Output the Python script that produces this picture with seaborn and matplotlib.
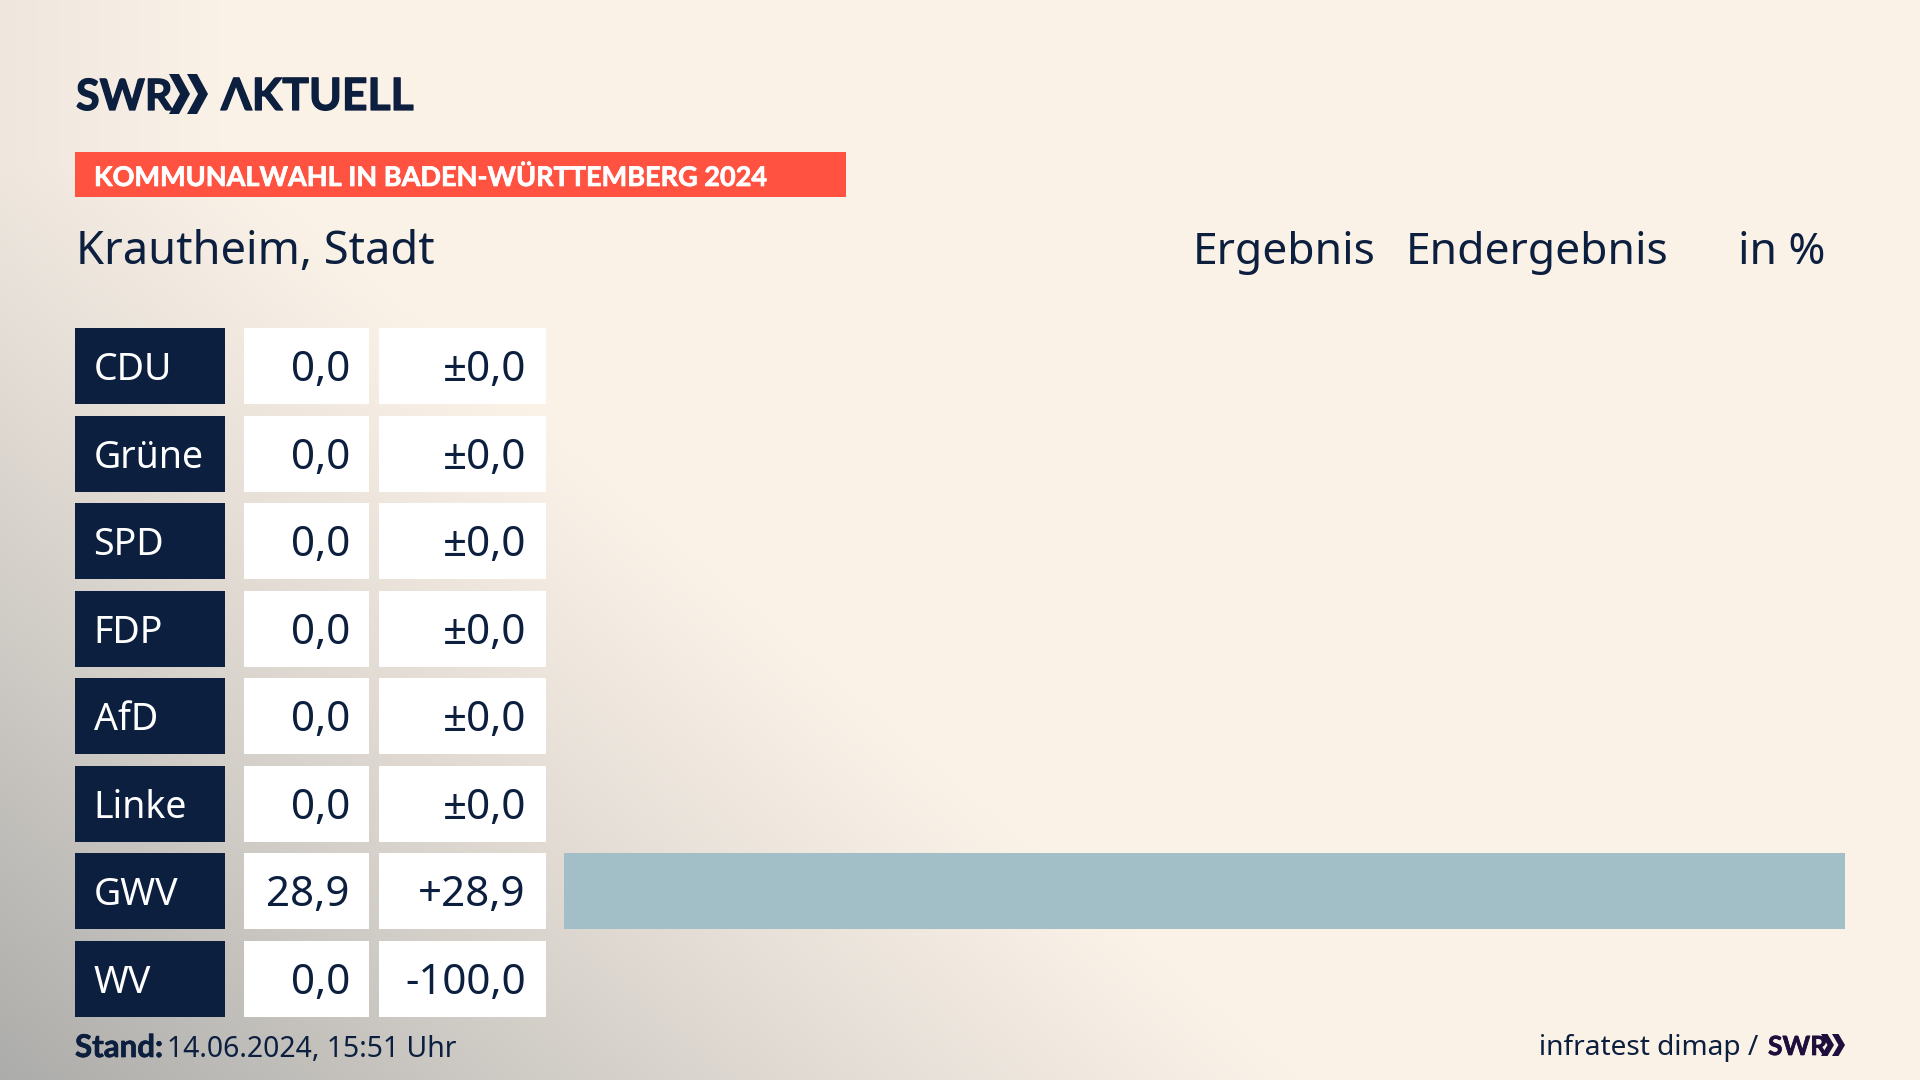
import numpy as np
import pandas as pd
import seaborn as sns
import matplotlib.pyplot as plt
import matplotlib.patheffects as pe
from matplotlib.patches import Rectangle, Polygon

# Daten
parteien = ["CDU", "Grüne", "SPD", "FDP", "AfD", "Linke", "GWV", "WV"]
ergebnis = [0.0, 0.0, 0.0, 0.0, 0.0, 0.0, 28.9, 0.0]
differenz = [0.0, 0.0, 0.0, 0.0, 0.0, 0.0, 28.9, -100.0]
ergebnis_text = ["0,0", "0,0", "0,0", "0,0", "0,0", "0,0", "28,9", "0,0"]
differenz_text = ["±0,0", "±0,0", "±0,0", "±0,0", "±0,0", "±0,0", "+28,9", "-100,0"]

NAVY = "#0C1F3F"
LILA = "#1E0F3C"
CREAM = np.array([250, 241, 231]) / 255
GRAU = np.array([172, 172, 170]) / 255
W, H = 1920, 1080
ROW_TOP, ROW_STEP, ROW_H = 328.4, 87.45, 76
BOLD = ["Lato", "DejaVu Sans"]

sns.set_theme(style="white")
plt.rcParams["font.family"] = ["Noto Sans", "DejaVu Sans"]


def draw_background(ax):
    xx, yy = np.meshgrid(np.arange(W), np.arange(H))
    # grauer Verlauf von unten links, fast diagonal
    d = xx / 1300 + (H - yy) / 1120
    t = np.clip(1 - d, 0, 1) ** 1.15
    # schmaler Rand links oben
    t = np.maximum(t, 0.14 * np.clip(1 - xx / 220, 0, 1))
    img = CREAM + (GRAU - CREAM) * t[..., None]
    ax.imshow(img, extent=(0, W, H, 0), aspect="auto", zorder=0)


def chevrons(ax, xs, top, bottom, breite, dicke, color):
    mitte = (top + bottom) / 2
    for x0 in xs:
        ax.add_patch(Polygon([(x0, top), (x0 + dicke, top), (x0 + breite, mitte),
                              (x0 + dicke, bottom), (x0, bottom), (x0 + breite - dicke, mitte)],
                             color=color, lw=0))


def draw_logo(ax):
    stroke = [pe.withStroke(linewidth=0.9, foreground=NAVY)]
    ax.text(76, 110, "SWR", color=NAVY, fontsize=31, fontweight="bold", family=BOLD,
            va="baseline", path_effects=stroke)
    chevrons(ax, (169, 187), 74, 114, 21, 10, NAVY)
    ax.text(221, 110, "ΛKTUELL", color=NAVY, fontsize=32, fontweight="bold", family=BOLD,
            va="baseline", path_effects=stroke)


fig = plt.figure(figsize=(19.2, 10.8), dpi=100)
ax = fig.add_axes([0, 0, 1, 1])
draw_background(ax)
ax.set_xlim(0, W)
ax.set_ylim(H, 0)
ax.axis("off")

draw_logo(ax)
ax.add_patch(Rectangle((75, 152), 771, 45, color="#FF5240", lw=0))
ax.text(94, 186, "KOMMUNALWAHL IN BADEN-WÜRTTEMBERG 2024", color="white", fontsize=19.5,
        fontweight="bold", family=BOLD, va="baseline",
        path_effects=[pe.withStroke(linewidth=0.5, foreground="white")])

ax.text(76, 264, "Krautheim, Stadt", color=NAVY, fontsize=32.6, va="baseline")
ax.text(1193, 264, "Ergebnis", color=NAVY, fontsize=32, va="baseline")
ax.text(1406, 264, "Endergebnis", color=NAVY, fontsize=32, va="baseline")
ax.text(1738, 264, "in %", color=NAVY, fontsize=32, va="baseline")

# Tabelle links
for i, partei in enumerate(parteien):
    top = ROW_TOP + i * ROW_STEP
    base = top + ROW_H / 2 + 15
    ax.add_patch(Rectangle((75, top), 150, ROW_H, color=NAVY, lw=0))
    ax.add_patch(Rectangle((244, top), 125, ROW_H, color="white", lw=0))
    ax.add_patch(Rectangle((379, top), 167, ROW_H, color="white", lw=0))
    ax.text(93.5, base - 1, partei, color="white", fontsize=27, va="baseline")
    ax.text(350, base, ergebnis_text[i], color=NAVY, fontsize=30.3, va="baseline", ha="right")
    ax.text(526, base, differenz_text[i], color=NAVY, fontsize=30.3, va="baseline", ha="right")

# Balken
df = pd.DataFrame({"partei": parteien, "ergebnis": ergebnis, "differenz": differenz})
bar_top = ROW_TOP + ROW_H / 2 - ROW_STEP / 2
bar_h = 8 * ROW_STEP
ax_bar = fig.add_axes([564 / W, 1 - (bar_top + bar_h) / H, (1845 - 564) / W, bar_h / H])
ax_bar.patch.set_alpha(0)
sns.barplot(data=df, y="partei", x="ergebnis", color="#A2BEC6", saturation=1,
            width=ROW_H / ROW_STEP, linewidth=0, ax=ax_bar)
ax_bar.set_xlim(0, max(ergebnis))
ax_bar.set_ylim(7.5, -0.5)
ax_bar.axis("off")

# Fusszeile
ax.text(75, 1057, "Stand:", color=NAVY, fontsize=22.5, fontweight="bold", family=BOLD, va="baseline",
        path_effects=[pe.withStroke(linewidth=0.5, foreground=NAVY)])
ax.text(167, 1057, "14.06.2024, 15:51 Uhr", color=NAVY, fontsize=20.4, va="baseline")
ax.text(1539, 1055, "infratest dimap /", color=NAVY, fontsize=20.2, va="baseline")
ax.text(1768, 1055, "SWR", color=LILA, fontsize=19, fontweight="bold", family=BOLD, va="baseline",
        path_effects=[pe.withStroke(linewidth=0.5, foreground=LILA)])
chevrons(ax, (1821, 1832), 1034, 1056, 13, 6.5, LILA)

fig.savefig("out.png", dpi=100)
